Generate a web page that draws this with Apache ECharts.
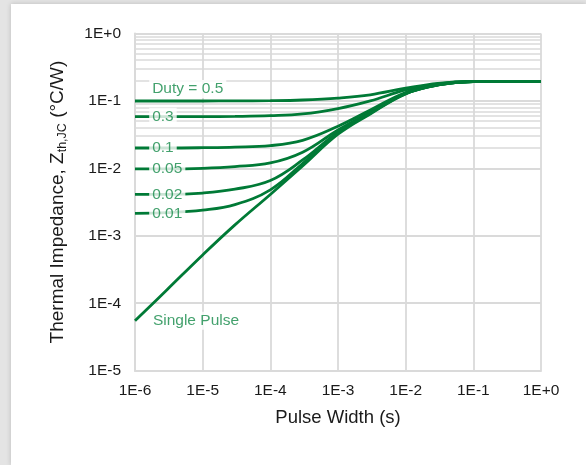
<!DOCTYPE html>
<html>
<head>
<meta charset="utf-8">
<script src="https://cdn.jsdelivr.net/npm/echarts@6/dist/echarts.min.js"></script>
<style>
html,body{margin:0;padding:0;width:586px;height:465px;overflow:hidden;background:#e4e4e4;}
#card{position:absolute;left:11px;top:4px;right:0;bottom:0;background:#fff;box-shadow:0 0 5px rgba(0,0,0,0.18);}
#chart{position:absolute;left:0;top:0;width:586px;height:465px;}
</style>
</head>
<body>
<div id="card"></div>
<div id="chart"></div>
<script>
// ---- data ----
const pulseWidth = [1e-6, 3e-6, 1e-5, 3e-5, 1e-4, 3e-4, 1e-3, 3e-3, 1e-2, 3e-2, 1e-1, 3e-1, 1];
const zSingle = [5.5e-5, 1.6e-4, 5.2e-4, 1.45e-3, 4.1e-3, 0.0108, 0.032, 0.064, 0.127, 0.172, 0.193, 0.195, 0.195];
const zD001 = [0.00215, 0.0022, 0.0024, 0.0029, 0.0048, 0.0118, 0.0335, 0.0655, 0.128, 0.172, 0.193, 0.195, 0.195];
const zD002 = [0.0041, 0.0041, 0.0043, 0.0049, 0.0066, 0.0133, 0.0345, 0.066, 0.129, 0.172, 0.193, 0.195, 0.195];
const zD005 = [0.0098, 0.0098, 0.0100, 0.0106, 0.0120, 0.0173, 0.037, 0.068, 0.130, 0.173, 0.193, 0.195, 0.195];
const zD01 = [0.0200, 0.0200, 0.0202, 0.0206, 0.0217, 0.0260, 0.042, 0.073, 0.133, 0.175, 0.194, 0.195, 0.195];
const zD03 = [0.0582, 0.0582, 0.0583, 0.0588, 0.0603, 0.0640, 0.077, 0.100, 0.145, 0.179, 0.194, 0.195, 0.195];
const zD05 = [0.0995, 0.0995, 0.0996, 0.0998, 0.1005, 0.1030, 0.110, 0.123, 0.154, 0.182, 0.194, 0.195, 0.195];

const xTickLabels = ['1E-6', '1E-5', '1E-4', '1E-3', '1E-2', '1E-1', '1E+0'];
const yTickLabels = ['1E-5', '1E-4', '1E-3', '1E-2', '1E-1', '1E+0'];

const curveLabels = ['Duty = 0.5', '0.3', '0.1', '0.05', '0.02', '0.01', 'Single Pulse'];
const curveLabelX = [1.62e-6, 1.62e-6, 1.62e-6, 1.62e-6, 1.62e-6, 1.62e-6, 1.66e-6];
const curveLabelY = [0.150, 0.0582, 0.0200, 0.0098, 0.0041, 0.00215, 5.5e-5];

const minorY = [];
for (let e = -5; e < 0; e++) for (let m = 2; m <= 9; m++) minorY.push(+(m * Math.pow(10, e)).toPrecision(3));

// ---- chart ----
const GREEN = '#007a36';
const TEXTGREEN = '#148a48';
const GRID = '#dadada';
const FONT = '"Liberation Sans", Arial, Helvetica, sans-serif';

const curves = [zD05, zD03, zD01, zD005, zD002, zD001, zSingle];
const lineSeries = curves.map((arr, i) => ({
  type: 'line',
  name: curveLabels[i],
  data: pulseWidth.map((x, k) => [x, arr[k]]),
  smooth: 0.4,
  showSymbol: false,
  symbol: 'none',
  z: 3,
  lineStyle: { color: GREEN, width: 2.8 },
  emphasis: { disabled: true },
  silent: true
}));

const chart = echarts.init(document.getElementById('chart'), null, { renderer: 'canvas' });
chart.setOption({
  animation: false,
  backgroundColor: 'transparent',
  textStyle: { fontFamily: FONT },
  grid: { left: 135, right: 45, top: 33.4, bottom: 94.3, containLabel: false },
  xAxis: {
    type: 'log', logBase: 10, min: 1e-6, max: 1,
    name: 'Pulse Width (s)', nameLocation: 'middle', nameGap: 38,
    nameTextStyle: { fontSize: 18.5, color: '#1a1a1a', fontFamily: FONT },
    axisLine: { show: true, lineStyle: { color: GRID, width: 2 } },
    axisTick: { show: false },
    axisLabel: {
      fontSize: 15.5, color: '#1a1a1a', margin: 12, fontFamily: FONT,
      formatter: v => xTickLabels[Math.round(Math.log10(v)) + 6]
    },
    splitLine: { show: true, lineStyle: { color: GRID, width: 1.8 } }
  },
  yAxis: {
    type: 'log', logBase: 10, min: 1e-5, max: 1,
    name: '{a|Thermal Impedance, Z}{b|th,JC}{a| (°C/W)}',
    nameLocation: 'middle', nameRotate: 90, nameGap: 66,
    nameTextStyle: {
      color: '#1a1a1a', fontFamily: FONT,
      rich: {
        a: { fontSize: 19, color: '#1a1a1a', fontFamily: FONT },
        b: { fontSize: 12.5, color: '#1a1a1a', fontFamily: FONT, padding: [10, 0, 0, 0] }
      }
    },
    axisLine: { show: true, lineStyle: { color: GRID, width: 2 } },
    axisTick: { show: false },
    axisLabel: {
      fontSize: 15.5, color: '#1a1a1a', margin: 14, fontFamily: FONT,
      formatter: v => yTickLabels[Math.round(Math.log10(v)) + 5]
    },
    splitLine: { show: true, lineStyle: { color: GRID, width: 1.8 } }
  },
  series: [
    {
      type: 'line', data: [], silent: true, z: 1,
      markLine: {
        z: 1, silent: true, symbol: 'none', animation: false,
        label: { show: false },
        lineStyle: { color: GRID, width: 1.6, type: 'solid' },
        emphasis: { disabled: true },
        data: minorY.map(v => ({ yAxis: v }))
      }
    },
    ...lineSeries,
    {
      type: 'scatter', silent: true, z: 6,
      symbolSize: 0,
      data: curveLabels.map((t, i) => [curveLabelX[i], curveLabelY[i], t]),
      label: {
        show: true, position: 'right', distance: 0,
        formatter: p => p.value[2],
        color: TEXTGREEN, fontSize: 15.5, fontFamily: FONT,
        backgroundColor: '#ffffff', padding: [1, 3, 1, 3]
      },
      emphasis: { disabled: true }
    }
  ]
});
</script>
</body>
</html>
